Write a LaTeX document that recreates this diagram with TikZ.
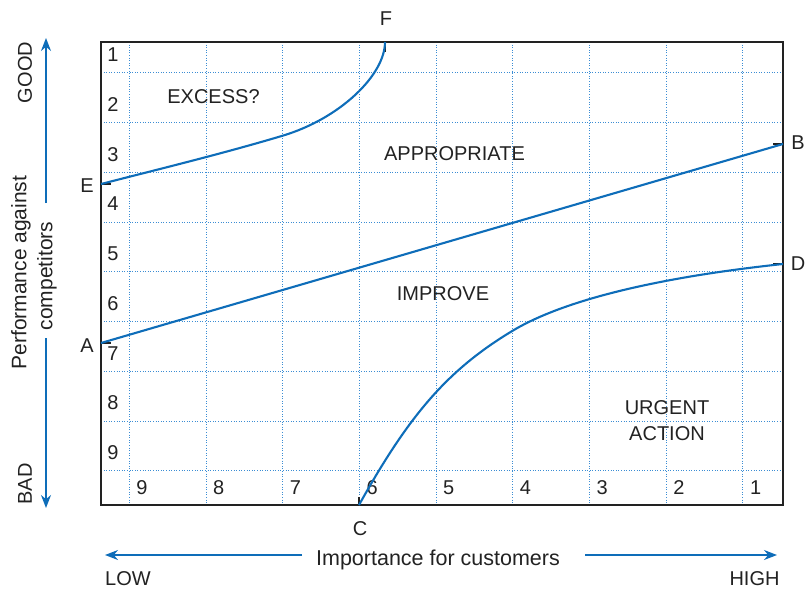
\documentclass[tikz,border=0pt]{standalone}
\usepackage{fontspec}
\setmainfont{Liberation Sans}
\usetikzlibrary{arrows.meta}
\definecolor{curveblue}{HTML}{0E6DB9}
\definecolor{gridblue}{HTML}{3B8DD4}
\definecolor{ink}{HTML}{222222}
\begin{document}
\begin{tikzpicture}[x=1pt,y=-1pt,
  lbl/.style={text=ink,font=\fontsize{20}{26}\selectfont,inner sep=0pt},
  biglbl/.style={text=ink,font=\fontsize{21}{26}\selectfont,inner sep=0pt},
  gridline/.style={gridblue,line width=0.9pt,dash pattern=on 1pt off 1.6pt},
  frame/.style={ink,line width=1.6pt},
  curve/.style={curveblue,line width=2.1pt},
  tickmark/.style={ink,line width=1.6pt},
  axisarrow/.style={curveblue,line width=1.5pt,-{Stealth[length=13pt,width=10pt]}}]
\useasboundingbox (0,0) rectangle (808,592);

% grid
\foreach \k in {0,...,8} {
  \draw[gridline] (101,72.7+49.75*\k) -- (783,72.7+49.75*\k);
  \draw[gridline] (129.3+76.7*\k,42) -- (129.3+76.7*\k,505);
}
\draw[frame] (101,42) rectangle (783,505);

% row and column numbers
\foreach \n in {1,...,9}
  \node[lbl] (r\n) at (113,55+49.7*\n-49.7) {\n};
\foreach \n [count=\i from 0] in {9,...,1}
  \node[lbl] (c\n) at (142+76.7*\i,488) {\n};

% end points
\coordinate (A) at (101,343);
\coordinate (B) at (783,144);
\coordinate (C) at (359,505);
\coordinate (D) at (783,264);
\coordinate (E) at (101,184);
\coordinate (F) at (385,42);

% tick marks
\draw[tickmark] (A) -- ++(10,0);
\draw[tickmark] (E) -- ++(10,0);
\draw[tickmark] (B) -- ++(-10,0);
\draw[tickmark] (D) -- ++(-10,0);
\draw[tickmark] (F) -- ++(0,10);
\draw[tickmark] (C) -- ++(0,-8);

% curves
\draw[curve] (A) -- (B);
\draw[curve] (E) .. controls (161,168.6) and (222,153.8) .. (282.7,135.7)
                 .. controls (340,118.5) and (385,75) .. (F);
\draw[curve] (C) .. controls (409,415) and (447.7,369.7) .. (512.7,330.7)
                 .. controls (572.7,294.7) and (683,274.6) .. (D);

% point labels
\node[lbl] (lA) at (87,346) {A};
\node[lbl] (lB) at (798,142.5) {B};
\node[lbl] (lC) at (360,529) {C};
\node[lbl] (lD) at (798,263.5) {D};
\node[lbl] (lE) at (87,185.5) {E};
\node[lbl] (lF) at (386,18.5) {F};

% region labels
\node[lbl] (excess) at (213.5,97) {EXCESS?};
\node[lbl] (approp) at (454.5,154) {APPROPRIATE};
\node[lbl] (improve) at (443,294) {IMPROVE};
\node[lbl,align=center] (urgent) at (667,420.5) {URGENT\\ACTION};

% vertical axis
\node[lbl,rotate=90] (good) at (25,72.5) {GOOD};
\node[lbl,rotate=90] (bad) at (25,484) {BAD};
\node[biglbl,rotate=90] (perf) at (21,272.5) {Performance against};
\node[biglbl,rotate=90] (comp) at (47,276) {competitors};
\coordinate (vtop) at (46,203);
\coordinate (vbot) at (46,338);
\coordinate (goodtip) at (46,38);
\coordinate (badtip) at (46,508);
\draw[axisarrow] (vtop) -- (goodtip);
\draw[axisarrow] (vbot) -- (badtip);

% horizontal axis
\node[text=ink,font=\fontsize{21.5}{26}\selectfont,inner sep=0pt,anchor=base] (imp) at (438,565) {Importance for customers};
\coordinate (hleft) at (302,555);
\coordinate (hright) at (585,555);
\coordinate (lowtip) at (105,555);
\coordinate (hightip) at (777,555);
\draw[axisarrow] (hleft) -- (lowtip);
\draw[axisarrow] (hright) -- (hightip);
\node[lbl] (low) at (128,579) {LOW};
\node[lbl] (high) at (754.5,579) {HIGH};
\end{tikzpicture}
\end{document}
